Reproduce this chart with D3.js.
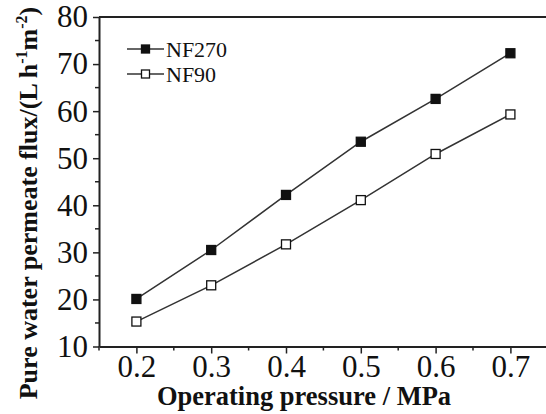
<!DOCTYPE html>
<html>
<head>
<meta charset="utf-8">
<script src="https://cdn.jsdelivr.net/npm/d3@7"></script>
<style>
  html, body { margin: 0; padding: 0; background: #fff; }
  svg { display: block; }
  text { font-family: "Liberation Serif", "Times New Roman", serif; fill: #111; }
</style>
</head>
<body>
<svg id="chart" width="546" height="414"></svg>
<script>
const pressures = [0.2, 0.3, 0.4, 0.5, 0.6, 0.7];
const nf270 = [20.1, 30.5, 42.2, 53.5, 62.6, 72.3];
const nf90 = [15.3, 23.0, 31.7, 41.1, 50.9, 59.3];
const seriesNames = ["NF270", "NF90"];
const xTicks = [0.2, 0.3, 0.4, 0.5, 0.6, 0.7];
const xMinorTicks = [0.15, 0.25, 0.35, 0.45, 0.55, 0.65, 0.75];
const yTicks = [10, 20, 30, 40, 50, 60, 70, 80];
const yMinorTicks = [15, 25, 35, 45, 55, 65, 75];

const svg = d3.select("#chart");
const plotLeft = 99, plotTop = 17, plotBottom = 346.5;
const x = d3.scaleLinear().domain([0.15, 0.8]).range([plotLeft, plotLeft + 0.65 * 748]);
const y = d3.scaleLinear().domain([10, 80]).range([plotBottom, plotTop]);
const axisColor = "#222";

// top frame line
svg.append("line").attr("x1", plotLeft).attr("x2", 560).attr("y1", plotTop).attr("y2", plotTop)
  .attr("stroke", axisColor).attr("stroke-width", 2);

// x axis
const xAxis = svg.append("g").attr("transform", `translate(0,${plotBottom})`)
  .call(d3.axisBottom(x).tickValues(xTicks).tickFormat(d3.format(".1f")).tickSize(7).tickPadding(1).tickSizeOuter(0));
xAxis.append("g").selectAll("line").data(xMinorTicks).join("line")
  .attr("x1", d => x(d)).attr("x2", d => x(d)).attr("y1", 0).attr("y2", 4)
  .attr("stroke", axisColor).attr("stroke-width", 1.5);
xAxis.select(".domain").attr("stroke", axisColor).attr("stroke-width", 2);
xAxis.selectAll(".tick line").attr("stroke", axisColor).attr("stroke-width", 1.5);
xAxis.selectAll(".tick text").attr("font-size", 31).attr("font-family", "Liberation Serif, serif").attr("fill", "#111");

// y axis
const yAxis = svg.append("g").attr("transform", `translate(${plotLeft},0)`)
  .call(d3.axisLeft(y).tickValues(yTicks).tickSize(6).tickPadding(5).tickSizeOuter(0));
yAxis.append("g").selectAll("line").data(yMinorTicks).join("line")
  .attr("x1", 0).attr("x2", -4).attr("y1", d => y(d)).attr("y2", d => y(d))
  .attr("stroke", axisColor).attr("stroke-width", 1.5);
yAxis.select(".domain").attr("stroke", axisColor).attr("stroke-width", 2);
yAxis.selectAll(".tick line").attr("stroke", axisColor).attr("stroke-width", 1.5);
yAxis.selectAll(".tick text").attr("font-size", 31).attr("font-family", "Liberation Serif, serif").attr("fill", "#111");

// axis titles
svg.append("text").attr("x", 304).attr("y", 405).attr("text-anchor", "middle")
  .attr("font-size", 26.5).attr("font-weight", "bold").text("Operating pressure / MPa");

const yt = svg.append("text").attr("transform", "translate(37,203) rotate(-90)")
  .attr("text-anchor", "middle").attr("font-size", 26).attr("font-weight", "bold");
yt.append("tspan").text("Pure water permeate flux/(L h");
yt.append("tspan").attr("font-size", 16).attr("dy", -10).text("-1");
yt.append("tspan").attr("dy", 10).text("m");
yt.append("tspan").attr("font-size", 16).attr("dy", -10).text("-2");
yt.append("tspan").attr("dy", 10).text(")");

// series
const series = [
  { name: seriesNames[0], values: nf270, fill: "#111" },
  { name: seriesNames[1], values: nf90, fill: "#fff" }
];
const line = d3.line().x((d, i) => x(pressures[i])).y(d => y(d));
const ms = 9;
series.forEach(s => {
  svg.append("path").datum(s.values).attr("d", line)
    .attr("fill", "none").attr("stroke", "#333").attr("stroke-width", 1.5);
  svg.append("g").selectAll("rect").data(s.values).join("rect")
    .attr("x", (d, i) => x(pressures[i]) - ms / 2).attr("y", d => y(d) - ms / 2)
    .attr("width", ms).attr("height", ms)
    .attr("fill", s.fill).attr("stroke", "#111").attr("stroke-width", 1.3);
});

// legend
const legendRows = [49, 74];
series.forEach((s, i) => {
  const ly = legendRows[i];
  svg.append("line").attr("x1", 127).attr("x2", 164).attr("y1", ly).attr("y2", ly)
    .attr("stroke", "#333").attr("stroke-width", 1.5);
  svg.append("rect").attr("x", 145.5 - 4).attr("y", ly - 4).attr("width", 8).attr("height", 8)
    .attr("fill", s.fill).attr("stroke", "#111").attr("stroke-width", 1.3);
  svg.append("text").attr("x", 166).attr("y", ly + 7.5).attr("font-size", 22).text(s.name);
});
</script>
</body>
</html>
